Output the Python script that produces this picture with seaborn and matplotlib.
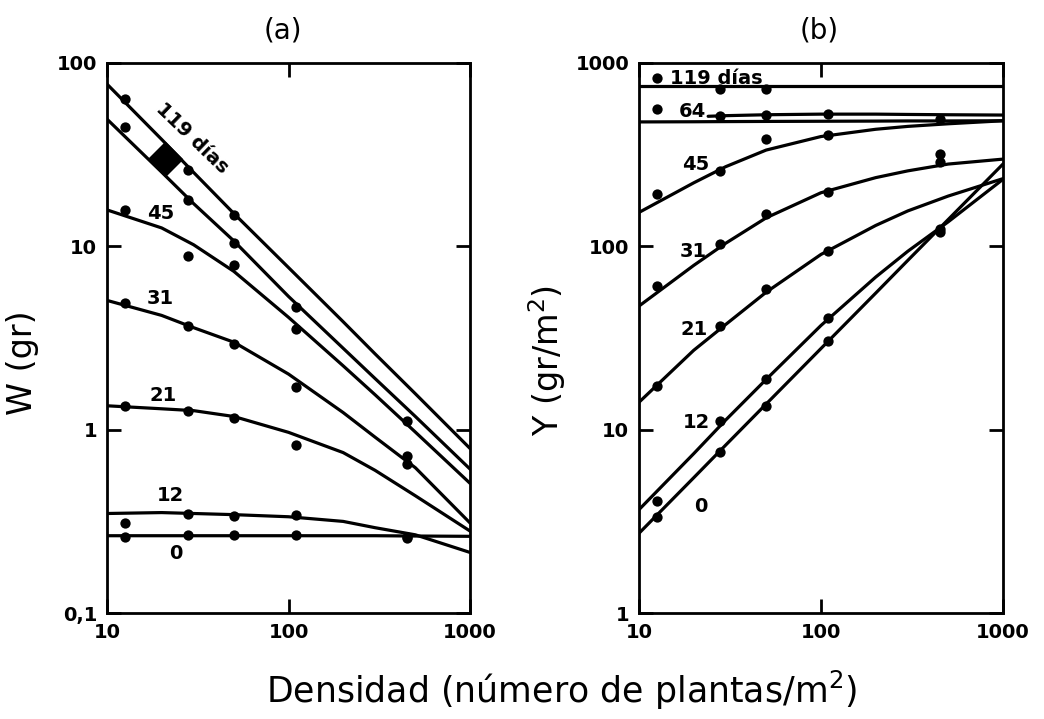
import numpy as np
import pandas as pd
import matplotlib
matplotlib.use("Agg")
import matplotlib.pyplot as plt
import seaborn as sns

sns.set_theme(style="ticks")
plt.rcParams["font.family"] = ["DejaVu Sans"]
plt.rcParams["text.color"] = "black"
plt.rcParams["axes.labelcolor"] = "black"
plt.rcParams["xtick.color"] = "black"
plt.rcParams["ytick.color"] = "black"

# Densidades (plantas/m2) de las curvas ajustadas y de las parcelas observadas
dens_curva = [10, 20, 30, 50, 100, 200, 300, 500, 1000]
dens_obs = [12.5, 28, 50, 110, 450]
dias = ["119", "64", "45", "31", "21", "12", "0"]

# (a) Peso individual W (gr) -- curvas ajustadas
W_119 = [76.7, 38.3, 25.3, 15.1, 7.66, 3.88, 2.59, 1.57, 0.79]
W_64 = [49.4, 25.4, 17.1, 10.7, 5.33, 2.78, 1.90, 1.18, 0.61]
W_45 = [15.8, 12.6, 10.2, 7.3, 4.1, 2.23, 1.55, 0.97, 0.51]
W_31 = [5.07, 4.20, 3.60, 3.0, 2.01, 1.24, 0.91, 0.62, 0.31]
W_21 = [1.35, 1.30, 1.27, 1.18, 0.967, 0.75, 0.60, 0.436, 0.28]
W_12 = [0.349, 0.353, 0.349, 0.344, 0.335, 0.316, 0.292, 0.267, 0.214]
W_0 = [0.264, 0.264, 0.264, 0.264, 0.264, 0.264, 0.264, 0.263, 0.262]

# (a) Peso individual W (gr) -- valores observados
W_obs_119 = [64, 26, 14.8, np.nan, np.nan]
W_obs_64 = [44.8, 17.8, 10.4, 4.65, 1.12]
W_obs_45 = [15.7, 8.9, 7.9, 3.56, 0.72]
W_obs_31 = [4.89, 3.66, 2.95, 1.70, 0.65]
W_obs_21 = [1.35, 1.27, 1.16, 0.82, np.nan]
W_obs_12 = [0.31, 0.347, 0.34, 0.342, 0.26]
W_obs_0 = [0.26, 0.265, 0.265, 0.265, 0.255]

# (b) Rendimiento Y (gr/m2) -- curvas ajustadas
dens_64b = [24, 30, 50, 100, 200, 300, 500, 1000]
Y_119 = [745, 745, 745, 745, 745, 745, 745, 745, 745]
Y_64 = [512, 516, 522, 526, 526, 524, 522, 520]
Y_tope = [477, 478, 479, 480, 481, 482, 483, 483, 484]
Y_45 = [153, 222, 272, 335, 397, 435, 451, 466, 484]
Y_31 = [47.2, 78.7, 104, 143, 196, 237, 258, 281, 299]
Y_21 = [14.1, 27.1, 37.5, 56.2, 90.3, 130, 156, 188, 234]
Y_12 = [3.66, 7.4, 11.3, 18.8, 37.0, 68, 94, 136, 232]
Y_0 = [2.72, 5.47, 8.25, 13.8, 27.7, 55.6, 83.8, 140, 281]

# (b) Rendimiento Y (gr/m2) -- valores observados
Y_obs_119 = [828, 721, 721, np.nan, np.nan]
Y_obs_64 = [561, 515, 522, 526, 494]
Y_obs_45 = [192, 258, 385, 404, 318]
Y_obs_31 = [60.7, 103, 150, 197, 288]
Y_obs_21 = [17.3, 36.7, 58.2, 94.2, np.nan]
Y_obs_12 = [4.06, 11.1, 18.8, 40.7, 125]
Y_obs_0 = [3.36, 7.6, 13.4, 30.4, 119]


def tabla(series, x_por_serie):
    filas = []
    for nombre, valores in series.items():
        for x, v in zip(x_por_serie[nombre], valores):
            filas.append({"serie": nombre, "densidad": x, "valor": v})
    return pd.DataFrame(filas).dropna()


curvas_a = tabla(
    dict(zip(dias, [W_119, W_64, W_45, W_31, W_21, W_12, W_0])),
    {d: dens_curva for d in dias},
)
obs_a = tabla(
    dict(zip(dias, [W_obs_119, W_obs_64, W_obs_45, W_obs_31, W_obs_21, W_obs_12, W_obs_0])),
    {d: dens_obs for d in dias},
)
series_b = dict(zip(dias, [Y_119, Y_64, Y_45, Y_31, Y_21, Y_12, Y_0]))
series_b["tope"] = Y_tope
x_b = {d: dens_curva for d in series_b}
x_b["64"] = dens_64b
curvas_b = tabla(series_b, x_b)
obs_b = tabla(
    dict(zip(dias, [Y_obs_119, Y_obs_64, Y_obs_45, Y_obs_31, Y_obs_21, Y_obs_12, Y_obs_0])),
    {d: dens_obs for d in dias},
)

fig = plt.figure(figsize=(10.44, 7.19), dpi=100)
fig.patch.set_facecolor("white")
ax_a = fig.add_axes([0.1025, 0.1474, 0.3477, 0.765])
ax_b = fig.add_axes([0.612, 0.1474, 0.3487, 0.765])

for ax, curvas, obs in ((ax_a, curvas_a, obs_a), (ax_b, curvas_b, obs_b)):
    sns.lineplot(data=curvas, x="densidad", y="valor", units="serie",
                 estimator=None, color="black", lw=2.3, ax=ax)
    sns.scatterplot(data=obs, x="densidad", y="valor", color="black",
                    s=55, edgecolor="black", linewidth=0, ax=ax, zorder=3)
    ax.set_xscale("log")
    ax.set_yscale("log")
    ax.set_xlim(10, 1000)
    ax.set_xticks([10, 100, 1000])
    ax.set_xticklabels(["10", "100", "1000"])
    ax.minorticks_off()
    ax.set_xlabel("")
    ax.set_ylabel("")
    ax.set_facecolor("white")
    for sp in ax.spines.values():
        sp.set_visible(True)
        sp.set_linewidth(2.0)
        sp.set_color("black")
    ax.tick_params(which="major", direction="in", length=10, width=2,
                   top=True, right=True, labelsize=14, pad=7, colors="black")
    for lab in ax.get_xticklabels() + ax.get_yticklabels():
        lab.set_fontweight("bold")

# mancha de tinta sobre las curvas de 64 y 119 dias
ax_a.scatter([21], [30], s=300, marker="D", color="black", zorder=3)

ax_a.set_ylim(0.1, 100)
ax_a.set_yticks([0.1, 1, 10, 100])
ax_a.set_yticklabels(["0,1", "1", "10", "100"], fontweight="bold")
ax_a.minorticks_off()

ax_b.set_ylim(1, 1000)
ax_b.set_yticks([1, 10, 100, 1000])
ax_b.set_yticklabels(["1", "10", "100", "1000"], fontweight="bold")
ax_b.minorticks_off()

etq = dict(fontsize=14, fontweight="bold", color="black", ha="center", va="center")
ax_a.text(24, 0.21, "0", **etq)
ax_a.text(22.4, 0.435, "12", **etq)
ax_a.text(20.5, 1.53, "21", **etq)
ax_a.text(19.7, 5.2, "31", **etq)
ax_a.text(19.7, 15.1, "45", **etq)
ax_a.text(29.3, 38.9, "119 días", rotation=-44, **etq)

etq_l = dict(etq, ha="left")
ax_b.text(14.8, 818, "119 días", **etq_l)
ax_b.text(16.6, 547, "64", **etq_l)
ax_b.text(20.6, 281, "45", **etq)
ax_b.text(20.0, 94, "31", **etq)
ax_b.text(20.0, 35, "21", **etq)
ax_b.text(20.8, 11.0, "12", **etq)
ax_b.text(21.9, 3.8, "0", **etq)

ax_a.set_ylabel("W (gr)", fontsize=24, color="black")
ax_a.yaxis.set_label_coords(-0.187, 0.455)
ax_b.set_ylabel("Y (gr/m$^{2}$)", fontsize=24, color="black")
ax_b.yaxis.set_label_coords(-0.195, 0.46)

fig.text(0.271, 0.958, "(a)", fontsize=20, ha="center", va="center", color="black")
fig.text(0.785, 0.958, "(b)", fontsize=20, ha="center", va="center", color="black")
fig.text(0.538, 0.04, "Densidad (número de plantas/m$^{2}$)", fontsize=25,
         ha="center", va="center", color="black")

fig.savefig("out.png", dpi=100, facecolor="white")
